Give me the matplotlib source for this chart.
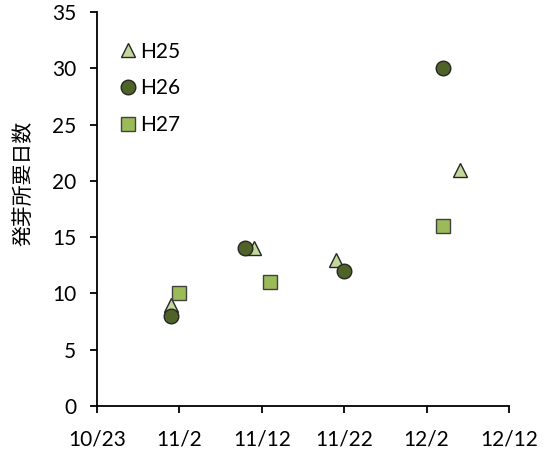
import datetime as dt

import matplotlib
matplotlib.use("Agg")
import matplotlib.pyplot as plt

plt.rcParams["font.family"] = ["Lato", "Noto Sans CJK JP", "DejaVu Sans"]

# sowing dates (month, day) and days to germination
h25_dates = [(11, 1), (11, 11), (11, 21), (12, 6)]
h25_days = [9, 14, 13, 21]
h26_dates = [(11, 1), (11, 10), (11, 22), (12, 4)]
h26_days = [8, 14, 12, 30]
h27_dates = [(11, 2), (11, 13), (12, 4)]
h27_days = [10, 11, 16]

tick_dates = [(10, 23), (11, 2), (11, 12), (11, 22), (12, 2), (12, 12)]
y_label = "発芽所要日数"


def to_dt(md):
    m, d = md
    return dt.datetime(2015, m, d)


fig = plt.figure(figsize=(5.45, 4.54), dpi=100, facecolor="white")
ax = fig.add_axes([97 / 545, 1 - 406 / 454, (509 - 97) / 545, (406 - 12) / 454])

ax.plot([to_dt(d) for d in h25_dates], h25_days, linestyle="none", marker="^",
        markersize=10.5, markerfacecolor="#c3d69b", markeredgecolor="#262626",
        markeredgewidth=1.0, label="H25", zorder=3)
ax.plot([to_dt(d) for d in h26_dates], h26_days, linestyle="none", marker="o",
        markersize=10.5, markerfacecolor="#4f6228", markeredgecolor="#262626",
        markeredgewidth=1.0, label="H26", zorder=3)
ax.plot([to_dt(d) for d in h27_dates], h27_days, linestyle="none", marker="s",
        markersize=9.5, markerfacecolor="#9bbb59", markeredgecolor="#404040",
        markeredgewidth=1.0, label="H27", zorder=3)

ticks = [to_dt(d) for d in tick_dates]
ax.set_xlim(ticks[0], ticks[-1])
ax.set_xticks(ticks)
ax.set_xticklabels([f"{m}/{d}" for m, d in tick_dates])
ax.set_ylim(0, 35)
ax.set_yticks(range(0, 36, 5))

for side in ("top", "right"):
    ax.spines[side].set_visible(False)
for side in ("left", "bottom"):
    ax.spines[side].set_linewidth(1.3)
    ax.spines[side].set_color("black")
ax.tick_params(direction="out", length=5, width=1.3, labelsize=15, colors="black")
ax.tick_params(axis="x", pad=12)
ax.tick_params(axis="y", pad=10)

ax.set_ylabel(y_label, fontsize=15)
ax.yaxis.set_label_coords(-0.155, 0.566)

ax.legend(loc="upper left", bbox_to_anchor=(0.05, 0.925), frameon=False,
          fontsize=15, handletextpad=0.1, labelspacing=0.8, handlelength=1.0,
          borderpad=0.0, borderaxespad=0.0)

fig.savefig("out.png", dpi=100, facecolor="white")
